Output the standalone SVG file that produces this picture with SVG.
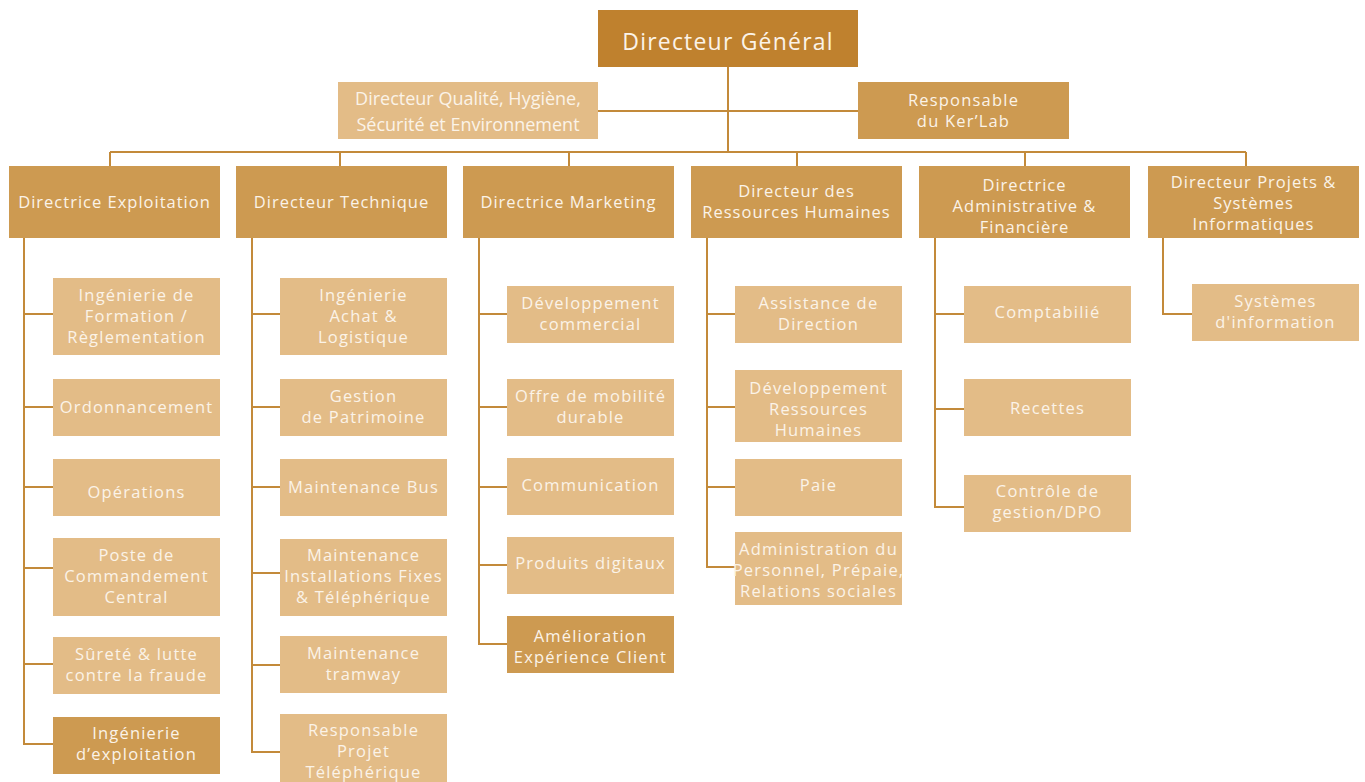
<svg xmlns="http://www.w3.org/2000/svg" width="1365" height="782" viewBox="0 0 1365 782">
  <style>
    .top { fill: #bf812e; }
    .mid { fill: #cd9a51; }
    .lite { fill: #e3bc87; }
    text { font-family: "Open Sans", "Noto Sans", sans-serif; fill: #fbf3e8; text-anchor: middle; }
    .t16 { font-size: 16.5px; letter-spacing: 1.2px; }
    .t17 { font-size: 16.5px; letter-spacing: 1px; }
    .tq { font-size: 18px; }
    .tg { font-size: 23px; letter-spacing: 1.2px; }
    .conn { fill: none; stroke: #c38a3a; stroke-width: 2; }
  </style>

  <!-- connectors -->
  <g id="connectors" class="conn">
    <path d="M728 67 V152"/>
    <path d="M598 111 H858"/>
    <path d="M110 152 H1246"/>
    <path d="M110 152 V166 M340 152 V166 M569 152 V166 M797 152 V166 M1025 152 V166 M1246 152 V166"/>
    <!-- Exploitation -->
    <path d="M24 238 V744 H53 M24 314 H53 M24 407 H53 M24 487 H53 M24 568 H53 M24 664 H53"/>
    <!-- Technique -->
    <path d="M252 238 V752 H280 M252 314 H280 M252 407 H280 M252 487 H280 M252 573 H280 M252 665 H280"/>
    <!-- Marketing -->
    <path d="M479 238 V644 H507 M479 314 H507 M479 407 H507 M479 487 H507 M479 565 H507"/>
    <!-- RH -->
    <path d="M707 238 V567 H735 M707 314 H735 M707 407 H735 M707 487 H735"/>
    <!-- DAF -->
    <path d="M935 238 V507 H964 M935 314 H964 M935 409 H964"/>
    <!-- DPSI -->
    <path d="M1163 238 V314 H1192"/>
  </g>

  <g id="dg"><rect class="top" x="598" y="10" width="260" height="57"/>
    <text class="tg" x="728" y="50">Directeur Général</text></g>
  <g id="qhse"><rect class="lite" x="338" y="82" width="260" height="57"/>
    <text class="tq" x="468" y="105">Directeur Qualité, Hygiène,</text>
    <text class="tq" x="468" y="131">Sécurité et Environnement</text></g>
  <g id="kerlab"><rect class="mid" x="858" y="82" width="211" height="57"/>
    <text class="t16" x="963.5" y="106">Responsable</text>
    <text class="t16" x="963.5" y="127">du Ker’Lab</text></g>

  <!-- directions -->
  <g id="exploitation"><rect class="mid" x="9" y="166" width="211" height="72"/>
    <text class="t17" x="114.5" y="208">Directrice Exploitation</text></g>
  <g id="technique"><rect class="mid" x="236" y="166" width="211" height="72"/>
    <text class="t17" x="341.5" y="208">Directeur Technique</text></g>
  <g id="marketing"><rect class="mid" x="463" y="166" width="211" height="72"/>
    <text class="t17" x="568.5" y="208">Directrice Marketing</text></g>
  <g id="rh"><rect class="mid" x="691" y="166" width="211" height="72"/>
    <text class="t17" x="796.5" y="197">Directeur des</text>
    <text class="t17" x="796.5" y="218">Ressources Humaines</text></g>
  <g id="daf"><rect class="mid" x="919" y="166" width="211" height="72"/>
    <text class="t17" x="1024.5" y="191">Directrice</text>
    <text class="t17" x="1024.5" y="212">Administrative &amp;</text>
    <text class="t17" x="1024.5" y="233">Financière</text></g>
  <g id="dpsi"><rect class="mid" x="1148" y="166" width="211" height="72"/>
    <text class="t17" x="1253.5" y="188">Directeur Projets &amp;</text>
    <text class="t17" x="1253.5" y="209">Systèmes</text>
    <text class="t17" x="1253.5" y="230">Informatiques</text></g>

  <!-- Exploitation services -->
  <g id="ing-formation"><rect class="lite" x="53" y="278" width="167" height="77"/>
    <text class="t16" x="136.5" y="301">Ingénierie de</text>
    <text class="t16" x="136.5" y="322">Formation /</text>
    <text class="t16" x="136.5" y="343">Règlementation</text></g>
  <g id="ordonnancement"><rect class="lite" x="53" y="379" width="167" height="57"/>
    <text class="t16" x="136.5" y="413">Ordonnancement</text></g>
  <g id="operations"><rect class="lite" x="53" y="459" width="167" height="57"/>
    <text class="t16" x="136.5" y="498">Opérations</text></g>
  <g id="pcc"><rect class="lite" x="53" y="538" width="167" height="78"/>
    <text class="t16" x="136.5" y="561">Poste de</text>
    <text class="t16" x="136.5" y="582">Commandement</text>
    <text class="t16" x="136.5" y="603">Central</text></g>
  <g id="surete"><rect class="lite" x="53" y="637" width="167" height="57"/>
    <text class="t16" x="136.5" y="660">Sûreté &amp; lutte</text>
    <text class="t16" x="136.5" y="681">contre la fraude</text></g>
  <g id="ing-exploitation"><rect class="mid" x="53" y="717" width="167" height="57"/>
    <text class="t16" x="136.5" y="739">Ingénierie</text>
    <text class="t16" x="136.5" y="760">d’exploitation</text></g>

  <!-- Technique services -->
  <g id="achat"><rect class="lite" x="280" y="278" width="167" height="77"/>
    <text class="t16" x="363.5" y="301">Ingénierie</text>
    <text class="t16" x="363.5" y="322">Achat &amp;</text>
    <text class="t16" x="363.5" y="343">Logistique</text></g>
  <g id="patrimoine"><rect class="lite" x="280" y="379" width="167" height="57"/>
    <text class="t16" x="363.5" y="402">Gestion</text>
    <text class="t16" x="363.5" y="423">de Patrimoine</text></g>
  <g id="maint-bus"><rect class="lite" x="280" y="459" width="167" height="57"/>
    <text class="t16" x="363.5" y="493">Maintenance Bus</text></g>
  <g id="maint-if"><rect class="lite" x="280" y="539" width="167" height="77"/>
    <text class="t16" x="363.5" y="561">Maintenance</text>
    <text class="t16" x="363.5" y="582">Installations Fixes</text>
    <text class="t16" x="363.5" y="603">&amp; Téléphérique</text></g>
  <g id="maint-tram"><rect class="lite" x="280" y="636" width="167" height="57"/>
    <text class="t16" x="363.5" y="659">Maintenance</text>
    <text class="t16" x="363.5" y="680">tramway</text></g>
  <g id="projet-teleph"><rect class="lite" x="280" y="714" width="167" height="70"/>
    <text class="t16" x="363.5" y="736">Responsable</text>
    <text class="t16" x="363.5" y="757">Projet</text>
    <text class="t16" x="363.5" y="778">Téléphérique</text></g>

  <!-- Marketing services -->
  <g id="dev-commercial"><rect class="lite" x="507" y="286" width="167" height="57"/>
    <text class="t16" x="590.5" y="309">Développement</text>
    <text class="t16" x="590.5" y="330">commercial</text></g>
  <g id="mobilite"><rect class="lite" x="507" y="379" width="167" height="57"/>
    <text class="t16" x="590.5" y="402">Offre de mobilité</text>
    <text class="t16" x="590.5" y="423">durable</text></g>
  <g id="communication"><rect class="lite" x="507" y="458" width="167" height="57"/>
    <text class="t16" x="590.5" y="491">Communication</text></g>
  <g id="digital"><rect class="lite" x="507" y="537" width="167" height="57"/>
    <text class="t16" x="590.5" y="569">Produits digitaux</text></g>
  <g id="experience"><rect class="mid" x="507" y="616" width="167" height="57"/>
    <text class="t16" x="590.5" y="642">Amélioration</text>
    <text class="t16" x="590.5" y="663">Expérience Client</text></g>

  <!-- RH services -->
  <g id="assistance"><rect class="lite" x="735" y="286" width="167" height="57"/>
    <text class="t16" x="818.5" y="309">Assistance de</text>
    <text class="t16" x="818.5" y="330">Direction</text></g>
  <g id="dev-rh"><rect class="lite" x="735" y="370" width="167" height="72"/>
    <text class="t16" x="818.5" y="394">Développement</text>
    <text class="t16" x="818.5" y="415">Ressources</text>
    <text class="t16" x="818.5" y="436">Humaines</text></g>
  <g id="paie"><rect class="lite" x="735" y="459" width="167" height="57"/>
    <text class="t16" x="818.5" y="491">Paie</text></g>
  <g id="admin-personnel"><rect class="lite" x="735" y="532" width="167" height="73"/>
    <text class="t16" x="818.5" y="555">Administration du</text>
    <text class="t16" x="818.5" y="576">Personnel, Prépaie,</text>
    <text class="t16" x="818.5" y="597">Relations sociales</text></g>

  <!-- DAF services -->
  <g id="comptabilite"><rect class="lite" x="964" y="286" width="167" height="57"/>
    <text class="t16" x="1047.5" y="318">Comptabilié</text></g>
  <g id="recettes"><rect class="lite" x="964" y="379" width="167" height="57"/>
    <text class="t16" x="1047.5" y="414">Recettes</text></g>
  <g id="controle"><rect class="lite" x="964" y="475" width="167" height="57"/>
    <text class="t16" x="1047.5" y="497">Contrôle de</text>
    <text class="t16" x="1047.5" y="518">gestion/DPO</text></g>

  <!-- DPSI services -->
  <g id="si"><rect class="lite" x="1192" y="284" width="167" height="57"/>
    <text class="t16" x="1275.5" y="307">Systèmes</text>
    <text class="t16" x="1275.5" y="328">d'information</text></g>
</svg>
